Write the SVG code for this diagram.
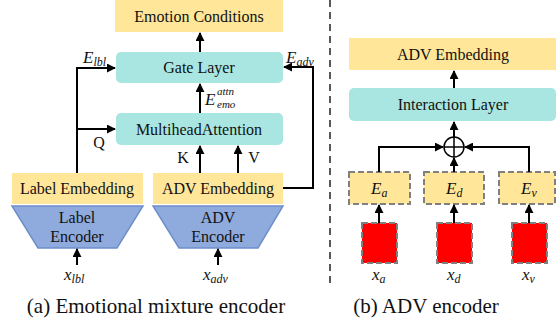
<svg xmlns="http://www.w3.org/2000/svg" width="556" height="325" viewBox="0 0 556 325">
<style>
text{font-family:"Liberation Serif",Tinos,"Noto Serif","DejaVu Serif","Times New Roman",Times,serif;fill:#111}
.lbl{font-size:16px;text-anchor:middle}
.m{font-style:italic;font-size:17px}
.s{font-style:italic;font-size:12px}
.ss{font-style:italic;font-size:11px}
.cap{font-size:21px;text-anchor:middle}
.y{fill:#FFE699}
.t{fill:#A9E6E1}
.b{fill:#8FAADC;stroke:#6F8FCB;stroke-width:1.5}
.dy{fill:#FFE699;stroke:#808080;stroke-width:2;stroke-dasharray:6,3}
.r{fill:#FF0000;stroke:#808080;stroke-width:2;stroke-dasharray:6,3}
.ar{fill:none;stroke:#000;stroke-width:2;marker-end:url(#ah)}
</style>
<defs>
<marker id="ah" viewBox="0 0 10 10" refX="9" refY="5" markerWidth="4.5" markerHeight="4.5" orient="auto" markerUnits="strokeWidth">
<path d="M0,0 L10,5 L0,10 z" fill="#000"/>
</marker>
</defs>
<g id="emotion-conditions"><rect class="y" x="115" y="0" width="168" height="32"/><text class="lbl" x="199" y="22">Emotion Conditions</text></g>
<g id="gate-layer"><rect class="t" x="116" y="52" width="167" height="31" rx="5"/><text class="lbl" x="199" y="73">Gate Layer</text></g>
<g id="mha"><rect class="t" x="116" y="113" width="167" height="32" rx="5"/><text class="lbl" x="199" y="135">MultiheadAttention</text></g>
<g id="label-embedding"><rect class="y" x="12" y="173" width="131" height="31"/><text class="lbl" x="77" y="194">Label Embedding</text></g>
<g id="adv-embedding-a"><rect class="y" x="153" y="173" width="130" height="31"/><text class="lbl" x="218" y="194">ADV Embedding</text></g>
<g id="label-encoder"><polygon class="b" points="12,206 143,206 117,248 38,248"/><text class="lbl" x="77" y="223">Label</text><text class="lbl" x="77" y="242">Encoder</text></g>
<g id="adv-encoder"><polygon class="b" points="153,206 283,206 258,248 179,248"/><text class="lbl" x="218" y="223">ADV</text><text class="lbl" x="218" y="242">Encoder</text></g>
<g id="adv-embedding-b"><rect class="y" x="349" y="38" width="207" height="32"/><text class="lbl" x="453" y="60">ADV Embedding</text></g>
<g id="interaction-layer"><rect class="t" x="349" y="88" width="207" height="33" rx="5"/><text class="lbl" x="453" y="110">Interaction Layer</text></g>
<g id="sum"><circle cx="454" cy="147" r="10" fill="#fff" stroke="#000" stroke-width="1.5"/><path d="M444,147 H464 M454,137 V157" stroke="#000" stroke-width="1.5"/></g>
<g id="ea"><rect class="dy" x="349" y="172" width="61" height="32"/><text class="m" x="371" y="194">E<tspan class="s" dy="3">a</tspan></text></g>
<g id="ed"><rect class="dy" x="424" y="172" width="60" height="32"/><text class="m" x="446" y="194">E<tspan class="s" dy="3">d</tspan></text></g>
<g id="ev"><rect class="dy" x="499" y="172" width="56" height="32"/><text class="m" x="521" y="194">E<tspan class="s" dy="3">v</tspan></text></g>
<g id="xa"><rect class="r" x="362" y="223" width="35" height="40"/><text class="m" x="372" y="280">x<tspan class="s" dy="3">a</tspan></text></g>
<g id="xd"><rect class="r" x="437" y="223" width="35" height="40"/><text class="m" x="447" y="280">x<tspan class="s" dy="3">d</tspan></text></g>
<g id="xv"><rect class="r" x="512" y="223" width="35" height="40"/><text class="m" x="522" y="280">x<tspan class="s" dy="3">v</tspan></text></g>
<g id="connectors">
<line class="ar" x1="200" y1="52" x2="200" y2="33"/>
<line class="ar" x1="200" y1="113" x2="200" y2="84"/>
<polyline class="ar" points="77,173 77,68 115,68"/>
<line class="ar" x1="77" y1="129" x2="115" y2="129"/>
<line class="ar" x1="200" y1="173" x2="200" y2="146"/>
<line class="ar" x1="238" y1="173" x2="238" y2="146"/>
<polyline class="ar" points="283,188 313,188 313,67 284,67"/>
<line class="ar" x1="77" y1="265" x2="77" y2="249"/>
<line class="ar" x1="218" y1="265" x2="218" y2="249"/>
<line class="ar" x1="454" y1="137" x2="454" y2="122"/>
<line class="ar" x1="454" y1="88" x2="454" y2="71"/>
<polyline class="ar" points="379,172 379,147 443,147"/>
<polyline class="ar" points="529,172 529,147 465,147"/>
<line class="ar" x1="454" y1="172" x2="454" y2="158"/>
<line class="ar" x1="379" y1="223" x2="379" y2="205"/>
<line class="ar" x1="454" y1="223" x2="454" y2="205"/>
<line class="ar" x1="529" y1="223" x2="529" y2="205"/>
<line x1="330" y1="0" x2="330" y2="283" stroke="#222" stroke-width="1.5" stroke-dasharray="7,5"/>
</g>
<g id="labels">
<text class="m" x="83" y="63">E<tspan class="s" dy="3">lbl</tspan></text>
<text class="m" x="286" y="63">E<tspan class="s" dy="3">adv</tspan></text>
<text class="m" x="205" y="105">E</text><text class="ss" x="217" y="95">attn</text><text class="ss" x="217" y="108">emo</text>
<text class="lbl" x="99" y="148">Q</text>
<text class="lbl" x="183" y="163">K</text>
<text class="lbl" x="254" y="163">V</text>
<text class="m" x="64" y="280">x<tspan class="s" dy="3">lbl</tspan></text>
<text class="m" x="203" y="280">x<tspan class="s" dy="3">adv</tspan></text>
<text class="cap" x="156" y="313">(a) Emotional mixture encoder</text>
<text class="cap" x="426" y="313">(b) ADV encoder</text>
</g>
</svg>
